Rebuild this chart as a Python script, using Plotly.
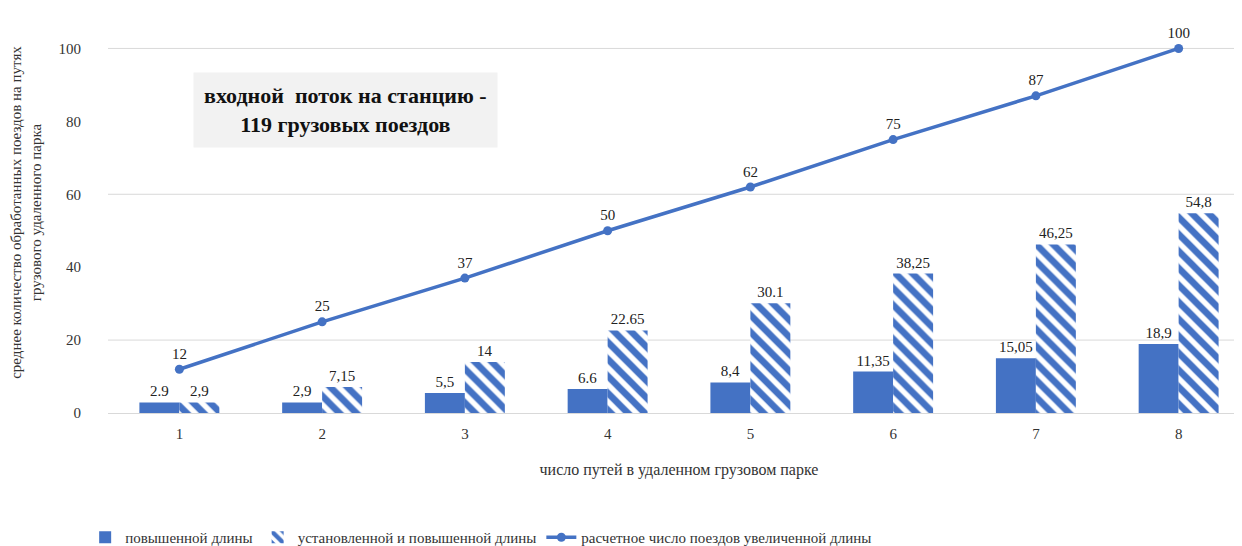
import plotly.graph_objects as go

categories = ["1", "2", "3", "4", "5", "6", "7", "8"]
solid_vals = [2.9, 2.9, 5.5, 6.6, 8.4, 11.35, 15.05, 18.9]
solid_labels = ["2.9", "2,9", "5,5", "6.6", "8,4", "11,35", "15,05", "18,9"]
hatch_vals = [2.9, 7.15, 14, 22.65, 30.1, 38.25, 46.25, 54.8]
hatch_labels = ["2,9", "7,15", "14", "22.65", "30.1", "38,25", "46,25", "54,8"]
line_vals = [12, 25, 37, 50, 62, 75, 87, 100]
line_labels = ["12", "25", "37", "50", "62", "75", "87", "100"]

series_names = [
    "повышенной длины",
    "установленной и повышенной длины",
    "расчетное число поездов увеличенной длины",
]

BLUE = "#4472C4"
FONT = "Liberation Serif, Times New Roman, serif"

fig = go.Figure()
fig.add_trace(go.Bar(
    x=categories, y=solid_vals, name=series_names[0],
    marker=dict(color=BLUE, line=dict(width=0)),
    text=solid_labels, textposition="outside", cliponaxis=False,
    textfont=dict(family=FONT, size=15, color="#222"),
))
fig.add_trace(go.Bar(
    x=categories, y=hatch_vals, name=series_names[1],
    marker=dict(color="white", line=dict(width=0),
                pattern=dict(shape="\\", fgcolor=BLUE, bgcolor="white",
                             fgopacity=1, size=12, solidity=0.55)),
    text=hatch_labels, textposition="outside", cliponaxis=False,
    textfont=dict(family=FONT, size=15, color="#222"),
))
fig.add_trace(go.Scatter(
    x=categories, y=line_vals, name=series_names[2],
    mode="lines+markers+text",
    line=dict(color=BLUE, width=3.5),
    marker=dict(color=BLUE, size=9),
    text=line_labels, textposition="top center", cliponaxis=False,
    textfont=dict(family=FONT, size=15, color="#222"),
))

# gridlines as in the reference (only 20, 60, 100 visible)
for gv in [20, 60, 100]:
    fig.add_shape(type="line", xref="paper", yref="y", x0=0, x1=1, y0=gv, y1=gv,
                  line=dict(color="#d9d9d9", width=1), layer="below")

fig.add_annotation(
    xref="paper", yref="paper", x=0.208, y=0.755, xanchor="center", yanchor="middle",
    text="<b>входной  поток на станцию -<br>119 грузовых поездов</b>",
    showarrow=False, align="center",
    font=dict(family=FONT, size=22, color="#111"),
    bgcolor="#f2f2f2", borderpad=10,
)

fig.update_layout(
    width=1242, height=546,
    margin=dict(l=100, r=0, t=4, b=136),
    paper_bgcolor="white", plot_bgcolor="white",
    barmode="group", bargap=0.44, bargroupgap=0.0,
    font=dict(family=FONT, size=14, color="#333"),
    showlegend=True,
    legend=dict(orientation="h", x=-0.02, xanchor="left", y=-0.27, yanchor="top",
                font=dict(family=FONT, size=15, color="#333"),
                itemwidth=30, traceorder="normal"),
    xaxis=dict(
        title=dict(text="число путей в удаленном грузовом парке",
                   font=dict(family=FONT, size=16, color="#333"), standoff=22),
        tickfont=dict(family=FONT, size=15, color="#333"),
        ticklabelstandoff=10,
        showline=False, showgrid=False, ticks="",
    ),
    yaxis=dict(
        title=dict(text="среднее количество обработанных поездов на путях<br>грузового удаленного парка",
                   font=dict(family=FONT, size=15, color="#333"), standoff=16),
        range=[0, 110], tickvals=[0, 20, 40, 60, 80, 100],
        tickfont=dict(family=FONT, size=15, color="#333"),
        ticklabelstandoff=26,
        showgrid=False, zeroline=True, zerolinecolor="#d9d9d9", zerolinewidth=1,
        ticks="",
    ),
)

fig.write_html("out.html")
